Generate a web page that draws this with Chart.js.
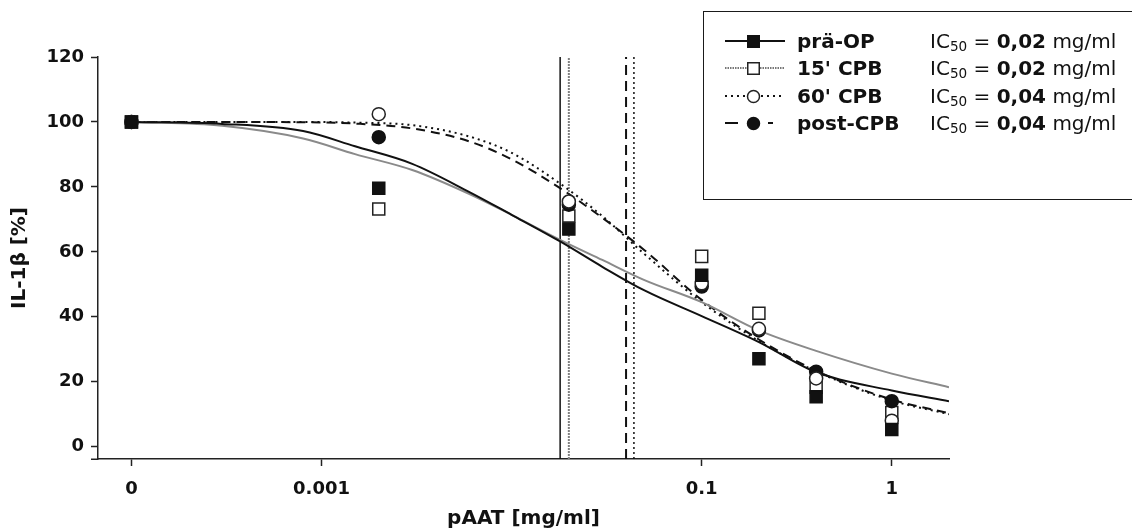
<!DOCTYPE html>
<html>
<head>
<meta charset="utf-8">
<script src="https://cdn.jsdelivr.net/npm/chart.js@4.4.0/dist/chart.umd.min.js"></script>
<style>
html,body{margin:0;padding:0;background:#fff;overflow:hidden;}
#wrap{position:relative;width:1132px;height:531px;overflow:hidden;}
#c{position:absolute;left:0;top:0;}
#legendBox{position:absolute;left:703px;top:11px;width:450px;height:189px;border:1.5px solid #1a1a1a;box-sizing:border-box;}
.lrow{position:absolute;height:28px;line-height:28px;white-space:nowrap;font-family:"DejaVu Sans",sans-serif;font-size:20px;color:#111;}
.lname{font-weight:bold;}
.lic sub{font-size:0.68em;vertical-align:-0.25em;line-height:0;}
.lsample{position:absolute;}
</style>
</head>
<body>
<div id="wrap">
<canvas id="c" width="1132" height="531"></canvas>
<div id="legendBox"></div>
</div>
<script>
// ---- data ----
const concentrations = [0, 0.002, 0.02, 0.1, 0.2, 0.4, 1];   // mg/ml
const zeroPosition = 0.0001;                                  // where "0" sits on the log axis
const seriesNames = ['prä-OP', "15' CPB", "60' CPB", 'post-CPB'];
const praeOP  = [100, 79.6, 67.0, 52.8, 27.1, 15.4, 5.3];
const cpb15   = [100, 73.2, 71.0, 58.6, 41.1, 18.3, 10.5];
const cpb60   = [100, 102.4, 75.5, 50.3, 36.3, 21.0, 8.0];
const postCPB = [100, 95.3, 74.5, 49.3, 35.8, 23.1, 14.0];

const ic50Values = [0.018, 0.020, 0.044, 0.040];
const ic50Labels = ['0,02', '0,02', '0,04', '0,04'];

// fitted curves
const curveX        = [0.0001, 0.0003, 0.0008, 0.0015, 0.003, 0.006, 0.01, 0.018, 0.03, 0.05, 0.1, 0.2, 0.4, 1, 2];
const curvePraeOP   = [100, 99.4, 97.2, 92.5, 87.1, 78.4, 71.4, 63.2, 55.4, 48.1, 40.2, 32.2, 22.9, 17.3, 14.0];
const curveCpb15    = [100, 98.8, 94.9, 90.1, 85.2, 77.8, 71.4, 63.7, 57.5, 51.3, 44.5, 35.8, 29.5, 22.5, 18.3];
const curveCpb60    = [100, 100, 100, 99.8, 99.0, 95.5, 90.5, 81.0, 71.0, 59.3, 44.5, 32.5, 23.2, 14.2, 10.0];
const curvePostCPB  = [100, 100, 99.9, 99.5, 98.0, 94.0, 88.5, 79.6, 70.5, 60.5, 45.2, 33.0, 23.4, 14.5, 10.3];

const xTickValues = [0.0001, 0.001, 0.1, 1];
const xTickLabels = ['0', '0.001', '0.1', '1'];
const yTickValues = [0, 20, 40, 60, 80, 100, 120];
const xTitle = 'pAAT [mg/ml]';
const yTitle = 'IL-1β [%]';

// ---- styles ----
const FONT = '"DejaVu Sans", sans-serif';
const BLACK = '#111111';
const GREY = '#8a8a8a';
const xMin = Math.pow(10, -4.176), xMax = 2, yMin = -3.8, yMax = 120;

// lower order = drawn on top
const markerStyles = [
  {pointStyle: 'rect',   radius: 8.5, bg: BLACK, border: BLACK, order: 1},
  {pointStyle: 'rect',   radius: 8.5, bg: '#ffffff', border: '#222', order: 4},
  {pointStyle: 'circle', radius: 6.5, bg: '#ffffff', border: '#222', order: 2},
  {pointStyle: 'circle', radius: 6.5, bg: BLACK, border: BLACK, order: 3}
];
const curveStyles = [
  {color: BLACK, width: 2, dash: []},
  {color: GREY,  width: 2, dash: []},
  {color: BLACK, width: 2, dash: [2, 4]},
  {color: BLACK, width: 2, dash: [9, 6]}
];
const vlineStyles = [
  {color: BLACK, width: 1.5, dash: []},
  {color: '#808080', width: 2, dash: [2, 1]},
  {color: BLACK, width: 1.5, dash: [2, 3]},
  {color: BLACK, width: 2,   dash: [10, 6]}
];

const seriesValues = [praeOP, cpb15, cpb60, postCPB];
const curveValues = [curvePraeOP, curveCpb15, curveCpb60, curvePostCPB];

const datasets = [];
seriesValues.forEach((vals, i) => {
  const m = markerStyles[i];
  datasets.push({
    type: 'scatter',
    label: seriesNames[i],
    data: concentrations.map((c, k) => ({x: c === 0 ? zeroPosition : c, y: vals[k]})),
    showLine: false,
    pointStyle: m.pointStyle,
    pointRadius: m.radius,
    pointBackgroundColor: m.bg,
    pointBorderColor: m.border,
    pointBorderWidth: 1.5,
    order: m.order
  });
});
curveValues.forEach((vals, i) => {
  const s = curveStyles[i];
  datasets.push({
    type: 'line',
    label: seriesNames[i] + ' fit',
    data: curveX.map((x, k) => ({x: x, y: vals[k]})),
    borderColor: s.color,
    borderWidth: s.width,
    borderDash: s.dash,
    pointRadius: 0,
    fill: false,
    cubicInterpolationMode: 'monotone',
    order: 10 + i
  });
});
ic50Values.forEach((v, i) => {
  const s = vlineStyles[i];
  datasets.push({
    type: 'line',
    label: seriesNames[i] + ' IC50',
    data: [{x: v, y: yMin}, {x: v, y: yMax}],
    borderColor: s.color,
    borderWidth: s.width,
    borderDash: s.dash,
    pointRadius: 0,
    fill: false,
    order: 20 + i
  });
});

const axisExtend = {
  id: 'axisExtend',
  afterDraw(chart) {
    const {ctx, chartArea} = chart;
    ctx.save();
    ctx.strokeStyle = '#222';
    ctx.lineWidth = 1.5;
    ctx.beginPath();
    const yb = Math.round(chartArea.bottom) + 0.25;
    ctx.moveTo(91, yb);
    ctx.lineTo(chartArea.left, yb);
    ctx.stroke();
    ctx.restore();
  }
};

new Chart(document.getElementById('c'), {
  type: 'scatter',
  data: {datasets},
  options: {
    responsive: false,
    animation: false,
    devicePixelRatio: 1,
    layout: {padding: {top: 57, right: 183, bottom: 0, left: 0}},
    plugins: {legend: {display: false}, tooltip: {enabled: false}},
    scales: {
      x: {
        type: 'logarithmic',
        min: xMin, max: xMax,
        afterBuildTicks: s => { s.ticks = xTickValues.map(v => ({value: v})); },
        afterFit: s => { s.height = 72; },
        ticks: {
          callback: (v, i) => xTickLabels[i],
          font: {family: FONT, size: 18, weight: 'bold'},
          color: BLACK, padding: 13, autoSkip: false, maxRotation: 0
        },
        grid: {drawOnChartArea: false, drawTicks: true, tickLength: 7, tickColor: '#222', tickWidth: 1.5},
        border: {display: true, color: '#222', width: 1.5},
        title: {display: true, text: xTitle, font: {family: FONT, size: 20, weight: 'bold'}, color: BLACK, padding: {top: 0, bottom: 0}}
      },
      y: {
        type: 'linear',
        min: yMin, max: yMax,
        afterBuildTicks: s => { s.ticks = yTickValues.map(v => ({value: v})); },
        afterFit: s => { s.width = 98; },
        ticks: {font: {family: FONT, size: 18, weight: 'bold'}, color: BLACK, padding: 7},
        grid: {drawOnChartArea: false, drawTicks: true, tickLength: 7, tickColor: '#222', tickWidth: 1.5},
        border: {display: true, color: '#222', width: 1.5},
        title: {display: true, text: yTitle, font: {family: FONT, size: 20, weight: 'bold'}, color: BLACK, padding: {top: 8, bottom: 0}}
      }
    }
  },
  plugins: [axisExtend]
});

// ---- legend (HTML) ----
const rowCenters = [41, 68, 96, 123];
const wrap = document.getElementById('wrap');
function sampleSVG(i) {
  const ns = 'http://www.w3.org/2000/svg';
  const svg = document.createElementNS(ns, 'svg');
  svg.setAttribute('width', 64); svg.setAttribute('height', 20);
  const add = (tag, attrs) => { const e = document.createElementNS(ns, tag); for (const k in attrs) e.setAttribute(k, attrs[k]); svg.appendChild(e); };
  const s = curveStyles[i], m = markerStyles[i];
  if (i === 3) {
    add('line', {x1: 0, y1: 10, x2: 13, y2: 10, stroke: s.color, 'stroke-width': 2});
    add('line', {x1: 43, y1: 10, x2: 48, y2: 10, stroke: s.color, 'stroke-width': 2});
  } else if (i === 1) {
    add('line', {x1: 0, y1: 10, x2: 60, y2: 10, stroke: '#777', 'stroke-width': 2, 'stroke-dasharray': '1.5,1'});
  } else {
    add('line', {x1: 0, y1: 10, x2: 60, y2: 10, stroke: s.color, 'stroke-width': 2, 'stroke-dasharray': s.dash.length ? s.dash.join(',') : 'none'});
  }
  if (m.pointStyle === 'rect') add('rect', {x: 22.75, y: 4.75, width: 11.5, height: 11.5, fill: m.bg, stroke: m.border, 'stroke-width': 1.5});
  else add('circle', {cx: 28.5, cy: 10.5, r: 6, fill: m.bg, stroke: m.border, 'stroke-width': 1.5});
  return svg;
}
seriesNames.forEach((name, i) => {
  const sv = sampleSVG(i);
  sv.setAttribute('class', 'lsample');
  sv.style.left = '725px'; sv.style.top = (rowCenters[i] - 10) + 'px';
  wrap.appendChild(sv);
  const n = document.createElement('div');
  n.className = 'lrow lname';
  n.style.left = '797px'; n.style.top = (rowCenters[i] - 14) + 'px';
  n.textContent = name;
  wrap.appendChild(n);
  const t = document.createElement('div');
  t.className = 'lrow lic';
  t.style.left = '930px'; t.style.top = (rowCenters[i] - 14) + 'px';
  t.innerHTML = 'IC<sub>50</sub> = <b>' + ic50Labels[i] + '</b> mg/ml';
  wrap.appendChild(t);
});
</script>
</body>
</html>
